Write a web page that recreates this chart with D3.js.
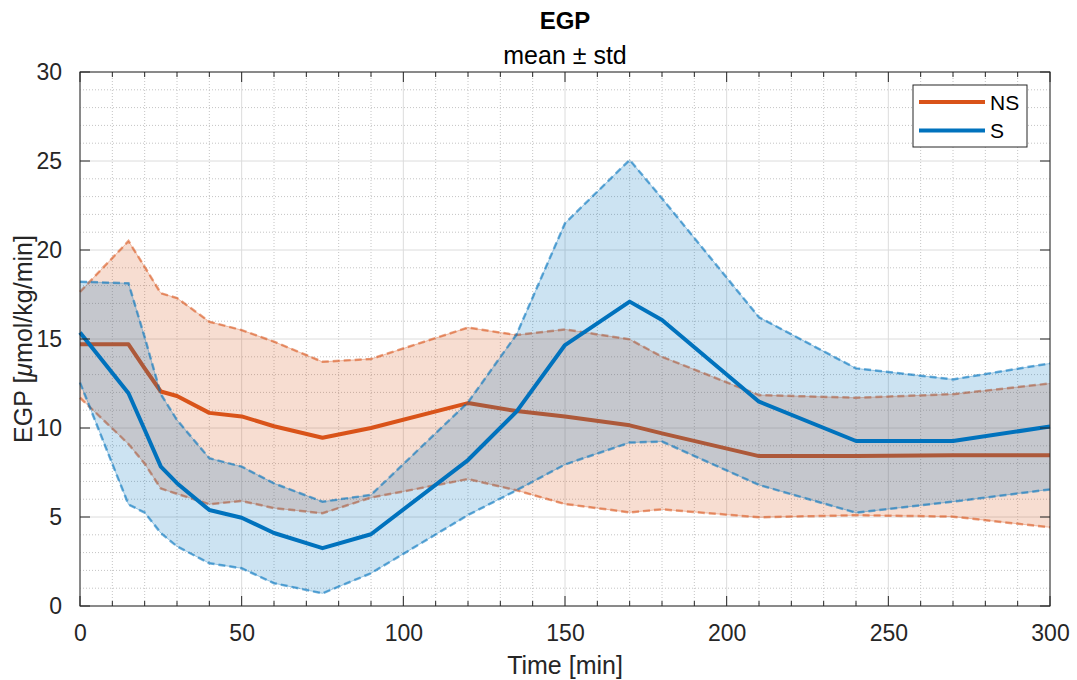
<!DOCTYPE html>
<html><head><meta charset="utf-8">
<script src="https://cdn.jsdelivr.net/npm/d3@7"></script>
<style>body{margin:0;background:#fff;} text{font-family:"Liberation Sans",Arial,Helvetica,sans-serif;}</style>
</head><body>
<svg id="c" width="1077" height="680"></svg>
<script>
const time = [0,15,20,25,30,40,50,60,75,90,120,135,150,170,180,210,240,270,300];
const nsMean = [14.7,14.7,13.35,12.05,11.8,10.85,10.65,10.1,9.45,10.0,11.4,10.95,10.65,10.15,9.7,8.42,8.42,8.47,8.47];
const nsUpper = [17.65,20.5,19.05,17.57,17.3,15.97,15.5,14.85,13.72,13.88,15.64,15.22,15.54,14.98,14.0,11.85,11.7,11.9,12.5];
const nsLower = [11.7,9.1,8.0,6.6,6.3,5.72,5.9,5.5,5.21,6.09,7.13,6.5,5.73,5.26,5.43,4.98,5.1,5.02,4.42];
const sMean = [15.36,11.95,9.9,7.83,6.9,5.39,4.96,4.1,3.25,4.03,8.2,10.92,14.66,17.1,16.07,11.48,9.27,9.27,10.08];
const sUpper = [18.22,18.13,15.1,11.9,10.45,8.3,7.83,6.89,5.86,6.24,11.44,15.25,21.5,25.06,22.9,16.22,13.35,12.73,13.63];
const sLower = [12.55,5.7,5.25,4.1,3.35,2.4,2.12,1.28,0.71,1.84,5.11,6.5,7.95,9.18,9.24,6.8,5.24,5.86,6.55];
const xTicks = [0,50,100,150,200,250,300];
const yTicks = [0,5,10,15,20,25,30];
const seriesNames = ["NS","S"];
const colors = ["#D95319","#0072BD"];

const svg = d3.select("#c");
const L=80,R=1050,T=72,B=606;
const x = d3.scaleLinear().domain([0,300]).range([L,R]);
const y = d3.scaleLinear().domain([0,30]).range([B,T]);

// grid
const g = svg.append("g");
d3.range(0,301,10).filter(v=>v%50!==0).forEach(v=>{
  g.append("line").attr("x1",x(v)).attr("x2",x(v)).attr("y1",T).attr("y2",B)
   .attr("stroke","#c4c4c4").attr("stroke-width",1).attr("stroke-dasharray","1,2");
});
d3.range(0,31,1).filter(v=>v%5!==0).forEach(v=>{
  g.append("line").attr("x1",L).attr("x2",R).attr("y1",y(v)).attr("y2",y(v))
   .attr("stroke","#c4c4c4").attr("stroke-width",1).attr("stroke-dasharray","1,2");
});
xTicks.forEach(v=>{ g.append("line").attr("x1",x(v)).attr("x2",x(v)).attr("y1",T).attr("y2",B).attr("stroke","#dcdcdc").attr("stroke-width",1);});
yTicks.forEach(v=>{ g.append("line").attr("x1",L).attr("x2",R).attr("y1",y(v)).attr("y2",y(v)).attr("stroke","#dcdcdc").attr("stroke-width",1);});

const area = (up,lo)=>d3.area().x((d,i)=>x(time[i])).y0((d,i)=>y(lo[i])).y1((d,i)=>y(up[i]))(time);
const line = arr=>d3.line().x((d,i)=>x(time[i])).y((d,i)=>y(arr[i]))(time);

function band(up,lo,mean,col){
  svg.append("path").attr("d",area(up,lo)).attr("fill",col).attr("fill-opacity",0.2).attr("stroke","none");
  [up,lo].forEach(a=>{
    svg.append("path").attr("d",line(a)).attr("fill","none").attr("stroke",col).attr("stroke-opacity",0.35).attr("stroke-width",1);
    svg.append("path").attr("d",line(a)).attr("fill","none").attr("stroke",col).attr("stroke-opacity",0.55).attr("stroke-width",2.5).attr("stroke-dasharray","7,4");
  });
  svg.append("path").attr("d",line(mean)).attr("fill","none").attr("stroke",col).attr("stroke-width",4).attr("stroke-linejoin","round");
}
band(nsUpper,nsLower,nsMean,colors[0]);
band(sUpper,sLower,sMean,colors[1]);

// box
svg.append("rect").attr("x",L).attr("y",T).attr("width",R-L).attr("height",B-T).attr("fill","none").attr("stroke","#262626").attr("stroke-width",1);

// axes
const xa = svg.append("g").attr("transform",`translate(0,${B})`)
  .call(d3.axisBottom(x).tickValues(xTicks).tickSize(0).tickPadding(19));
xa.select(".domain").remove();
xa.selectAll("text").attr("font-size",23).attr("fill","#262626");
const ya = svg.append("g").attr("transform",`translate(${L},0)`)
  .call(d3.axisLeft(y).tickValues(yTicks).tickSize(0).tickPadding(18));
ya.select(".domain").remove();
ya.selectAll("text").attr("font-size",23).attr("fill","#262626");

// ticks inside
xTicks.forEach(v=>{
  svg.append("line").attr("x1",x(v)).attr("x2",x(v)).attr("y1",B).attr("y2",B-10).attr("stroke","#262626");
  svg.append("line").attr("x1",x(v)).attr("x2",x(v)).attr("y1",T).attr("y2",T+10).attr("stroke","#262626");
});
d3.range(0,301,10).filter(v=>v%50!==0).forEach(v=>{
  svg.append("line").attr("x1",x(v)).attr("x2",x(v)).attr("y1",B).attr("y2",B-5).attr("stroke","#262626");
  svg.append("line").attr("x1",x(v)).attr("x2",x(v)).attr("y1",T).attr("y2",T+5).attr("stroke","#262626");
});
yTicks.forEach(v=>{
  svg.append("line").attr("x1",L).attr("x2",L+10).attr("y1",y(v)).attr("y2",y(v)).attr("stroke","#262626");
  svg.append("line").attr("x1",R).attr("x2",R-10).attr("y1",y(v)).attr("y2",y(v)).attr("stroke","#262626");
});

// titles
svg.append("text").attr("x",(L+R)/2).attr("y",29).attr("text-anchor","middle").attr("font-size",24).attr("font-weight","bold").attr("fill","#000").text("EGP");
svg.append("text").attr("x",(L+R)/2).attr("y",64).attr("text-anchor","middle").attr("font-size",25).attr("fill","#000").text("mean ± std");
svg.append("text").attr("x",(L+R)/2).attr("y",674).attr("text-anchor","middle").attr("font-size",25).attr("fill","#262626").text("Time [min]");
const yl = svg.append("text").attr("transform",`translate(32,${(T+B)/2}) rotate(-90)`).attr("text-anchor","middle").attr("font-size",25).attr("fill","#262626");
yl.append("tspan").text("EGP [");
yl.append("tspan").attr("font-style","italic").text("μ");
yl.append("tspan").text("mol/kg/min]");

// legend
const lg = svg.append("g");
lg.append("rect").attr("x",913).attr("y",85).attr("width",114).attr("height",62).attr("fill","#fff").attr("stroke","#262626").attr("stroke-width",1);
seriesNames.forEach((n,i)=>{
  const yy = 102+i*28.5;
  lg.append("line").attr("x1",919).attr("x2",985).attr("y1",yy).attr("y2",yy).attr("stroke",colors[i]).attr("stroke-width",4);
  lg.append("text").attr("x",990).attr("y",yy+7.5).attr("font-size",21).attr("fill","#000").text(n);
});
</script>
</body></html>
